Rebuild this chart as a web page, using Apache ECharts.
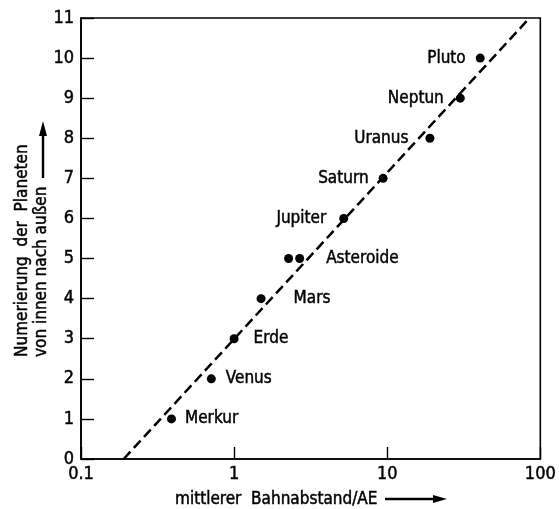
<!DOCTYPE html>
<html>
<head>
<meta charset="utf-8">
<script src="https://cdn.jsdelivr.net/npm/echarts@6/dist/echarts.min.js"></script>
<style>
  html, body { margin: 0; padding: 0; background: #fff; }
  #chart { width: 559px; height: 509px; }
</style>
</head>
<body>
<div id="chart"></div>
<script>
// Planets (plus two asteroids) numbered from the Sun outwards
const bodyNames   = ['Merkur', 'Venus', 'Erde', 'Mars', 'Asteroide', 'Asteroide', 'Jupiter', 'Saturn', 'Uranus', 'Neptun', 'Pluto'];
const meanDistAE  = [0.39, 0.71, 1.0, 1.5, 2.27, 2.68, 5.2, 9.4, 19.0, 30.0, 40.5];
const bodyNumber  = [1, 2, 3, 4, 5, 5, 6, 7, 8, 9, 10];

// Fitted straight line on the semi-log plot
const fitDist   = [0.19, 85];
const fitNumber = [0, 11];

// Axis tick labels
const xTickLabels = ['0.1', '1', '10', '100'];
const yTicks      = [0, 1, 2, 3, 4, 5, 6, 7, 8, 9, 10, 11];

// Which side each name sits on, and how far from the dot
const labelSide = ['right', 'right', 'right', 'right', null, 'right', 'left', 'left', 'left', 'left', 'left'];
const labelGap  = [9, 10, 15, 28, 0, 22, 13, 10, 17, 12, 10];

const FONT = "'DejaVu Sans Condensed', 'Liberation Sans Narrow', 'DejaVu Sans', sans-serif";
const INK = '#000';
// a hairline outline gives the lettering a little more weight
const heavier = { textBorderColor: INK, textBorderWidth: 0.45 };

const points = bodyNames.map((name, i) => {
  const item = { name: name, value: [meanDistAE[i], bodyNumber[i]] };
  if (labelSide[i]) {
    item.label = { show: true, position: labelSide[i], distance: labelGap[i], formatter: name };
  } else {
    item.label = { show: false };
  }
  return item;
});

const chart = echarts.init(document.getElementById('chart'), null, { renderer: 'canvas' });

chart.setOption({
  animation: false,
  backgroundColor: '#fff',
  textStyle: { fontFamily: FONT, color: INK },
  grid: {
    left: 81, right: 13, top: 18, bottom: 50,
    show: true, borderColor: INK, borderWidth: 1.6, backgroundColor: 'transparent'
  },
  xAxis: {
    type: 'log', logBase: 10, min: 0.1, max: 100,
    axisLine: { lineStyle: { color: INK, width: 1.6 } },
    axisTick: { inside: true, length: 12, lineStyle: { color: INK, width: 1.4 } },
    minorTick: { show: false },
    splitLine: { show: false },
    axisLabel: Object.assign({
      margin: 6, color: INK, fontFamily: FONT, fontSize: 18,
      formatter: function (v) {
        const exp = Math.round(Math.log10(v));
        return xTickLabels[exp + 1];
      }
    }, heavier)
  },
  yAxis: {
    type: 'value', min: 0, max: 11, interval: 1,
    axisLine: { show: true, lineStyle: { color: INK, width: 1.6 } },
    axisTick: { show: true, inside: true, length: 13, lineStyle: { color: INK, width: 1.4 } },
    splitLine: { show: false },
    axisLabel: Object.assign({
      margin: 7, color: INK, fontFamily: FONT, fontSize: 18,
      formatter: function (v) { return yTicks.indexOf(v) >= 0 ? String(v) : ''; }
    }, heavier)
  },
  series: [
    {
      type: 'line',
      data: fitDist.map((d, i) => [d, fitNumber[i]]),
      symbol: 'none',
      lineStyle: { color: INK, width: 2.5, type: [10, 5] },
      z: 2
    },
    {
      type: 'scatter',
      data: points,
      symbol: 'circle',
      symbolSize: 9,
      itemStyle: { color: INK, opacity: 1 },
      label: Object.assign({ color: INK, fontFamily: FONT, fontSize: 17 }, heavier),
      z: 3
    }
  ],
  graphic: [
    // y-axis title, two rotated lines
    {
      type: 'text', x: 23, y: 357, rotation: Math.PI / 2,
      style: { text: 'Numerierung  der  Planeten', fill: INK, font: '17px ' + FONT, textAlign: 'left', textVerticalAlign: 'middle', stroke: INK, lineWidth: 0.45 }
    },
    {
      type: 'text', x: 42, y: 357, rotation: Math.PI / 2,
      style: { text: 'von innen nach außen', fill: INK, font: '17px ' + FONT, textAlign: 'left', textVerticalAlign: 'middle', stroke: INK, lineWidth: 0.45 }
    },
    { type: 'line', shape: { x1: 43, y1: 178, x2: 43, y2: 132 }, style: { stroke: INK, lineWidth: 2.4 } },
    { type: 'polygon', shape: { points: [[39, 136], [43, 121], [47, 136]] }, style: { fill: INK } },
    // x-axis title with arrow
    {
      type: 'text', x: 175, y: 500,
      style: { text: 'mittlerer  Bahnabstand/AE', fill: INK, font: '17px ' + FONT, textAlign: 'left', textVerticalAlign: 'middle', stroke: INK, lineWidth: 0.45 }
    },
    { type: 'line', shape: { x1: 385, y1: 499, x2: 436, y2: 499 }, style: { stroke: INK, lineWidth: 2.4 } },
    { type: 'polygon', shape: { points: [[433, 495], [447, 499], [433, 503]] }, style: { fill: INK } }
  ]
});
</script>
</body>
</html>
